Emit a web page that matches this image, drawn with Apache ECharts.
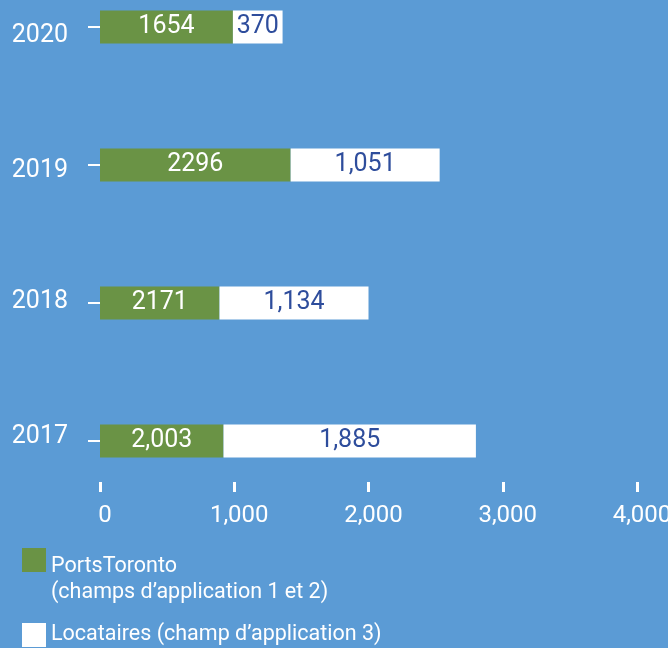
<!DOCTYPE html>
<html lang="fr">
  <head>
    <meta charset="UTF-8" />
    <title>Émissions</title>
    <script src="https://cdn.jsdelivr.net/npm/echarts@6/dist/echarts.min.js"></script>
    <style>
      html,
      body {
        margin: 0;
        padding: 0;
        background: #5b9bd5;
      }
    </style>
  </head>
  <body>
    <div id="main" style="width: 668px; height: 648px"></div>
    <script type="text/javascript">
      // ordre du bas vers le haut
      var years = ["2017", "2018", "2019", "2020"];
      // longueurs des barres telles que dessinées
      var portsLength = [920, 890, 1420, 990];
      var tenantLength = [1880, 1110, 1110, 370];
      // étiquettes imprimées dans les barres
      var portsLabels = ["2,003", "2171", "2296", "1654"];
      var tenantLabels = ["1,885", "1,134", "1,051", "370"];
      var xTicks = [0, 1000, 2000, 3000, 4000];

      var fontFam = "Roboto";
      var yLab = { color: "#fff", fontSize: 25, fontFamily: fontFam };
      var myChart = echarts.init(document.getElementById("main"));
      var option = {
        backgroundColor: "#5b9bd5",
        textStyle: { fontFamily: fontFam },
        grid: {
          left: 100,
          right: 31,
          top: -42,
          height: 552,
          outerBoundsMode: "none",
        },
        legend: [
          {
            data: ["PortsToronto"],
            orient: "vertical",
            left: 22,
            top: 523,
            padding: 0,
            icon: "rect",
            itemWidth: 24,
            itemHeight: 24,
            selectedMode: false,
            // ligne vide en tête pour que la 1re ligne soit au niveau du carré
            formatter: function () {
              return "{s| }\n{t|PortsToronto}\n{t|(champs d’application 1 et 2)}";
            },
            textStyle: {
              color: "#fff",
              fontSize: 21.5,
              fontFamily: fontFam,
              rich: {
                s: { lineHeight: 39, fontSize: 21.5 },
                t: { lineHeight: 26, fontSize: 21.5, color: "#fff" },
              },
            },
          },
          {
            data: ["Locataires"],
            orient: "vertical",
            left: 22,
            top: 623,
            padding: 0,
            icon: "rect",
            itemWidth: 24,
            itemHeight: 24,
            selectedMode: false,
            formatter: function () {
              return "Locataires (champ d’application 3)";
            },
            textStyle: { color: "#fff", fontSize: 21.5, fontFamily: fontFam },
          },
        ],
        xAxis: {
          type: "value",
          min: xTicks[0],
          max: xTicks[xTicks.length - 1],
          interval: 1000,
          offset: -18,
          axisLine: { show: false },
          splitLine: { show: false },
          axisTick: {
            show: true,
            inside: true,
            length: 10,
            lineStyle: { color: "#fff", width: 3 },
          },
          axisLabel: {
            color: "#fff",
            fontSize: 24,
            margin: 12,
            padding: [0, 0, 0, 10],
            formatter: function (v) {
              return v.toLocaleString("en-US");
            },
          },
        },
        yAxis: {
          type: "category",
          data: years,
          axisLine: { show: false },
          axisTick: {
            show: true,
            alignWithLabel: true,
            length: 12,
            lineStyle: { color: "#fff", width: 2 },
          },
          axisLabel: {
            color: "#fff",
            fontSize: 25,
            margin: 32,
            // les années ne sont pas tout à fait centrées sur les barres
            formatter: function (v, i) {
              return "{r" + i + "|" + v + "}";
            },
            rich: {
              r0: Object.assign({ padding: [0, 0, 8, 0] }, yLab),
              r1: Object.assign({ padding: [0, 0, 2, 0] }, yLab),
              r2: Object.assign({ padding: [12, 0, 0, 0] }, yLab),
              r3: Object.assign({ padding: [18, 0, 0, 0] }, yLab),
            },
          },
        },
        series: [
          {
            name: "PortsToronto",
            type: "bar",
            stack: "total",
            barWidth: 33,
            itemStyle: { color: "#6a9345" },
            label: {
              show: true,
              position: "inside",
              color: "#fff",
              fontSize: 25,
              formatter: function (p) {
                return portsLabels[p.dataIndex];
              },
            },
            data: portsLength,
          },
          {
            name: "Locataires",
            type: "bar",
            stack: "total",
            barWidth: 33,
            itemStyle: { color: "#ffffff" },
            label: {
              show: true,
              position: "inside",
              color: "#2e4d9c",
              fontSize: 25,
              formatter: function (p) {
                return tenantLabels[p.dataIndex];
              },
            },
            data: tenantLength,
          },
        ],
      };
      myChart.setOption(option);
    </script>
  </body>
</html>
